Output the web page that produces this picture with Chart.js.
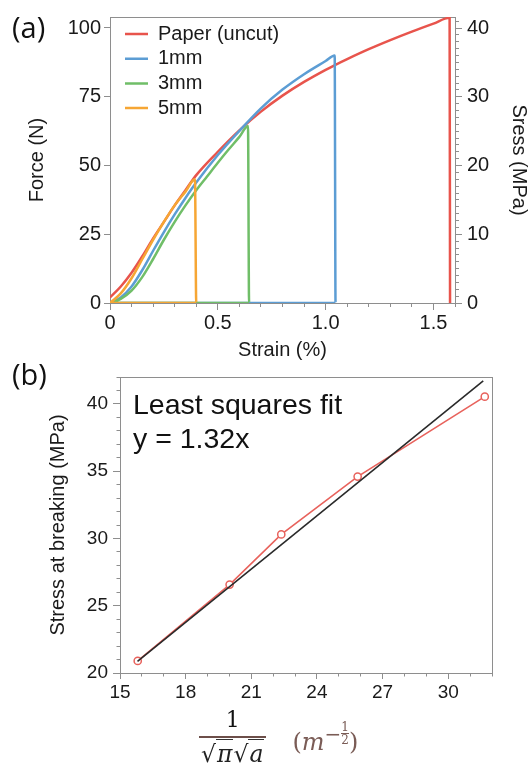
<!DOCTYPE html>
<html>
<head>
<meta charset="utf-8">
<script src="https://cdn.jsdelivr.net/npm/chart.js@4.4.0/dist/chart.umd.min.js"></script>
<style>
  html, body { margin: 0; padding: 0; background: #fff; }
  body { width: 530px; height: 772px; position: relative; overflow: hidden; font-family: "Liberation Sans", Arial, sans-serif; color: #1a1a1a; }
  canvas { position: absolute; left: 0; }
  #chartA { top: 0; }
  #chartB { top: 360px; }
  .panel { position: absolute; left: 12px; font-family: "Open Sans", sans-serif; font-size: 29px; line-height: 29px; color: #111; z-index: 2; }
  #fitNote { position: absolute; left: 133px; top: 387px; font-size: 28.5px; line-height: 34px; color: #111; z-index: 2; }
  #xtitle { position: absolute; left: 199px; top: 707px; display: flex; align-items: center; font-family: "DejaVu Serif", serif; z-index: 2; }
  .frac { display: inline-flex; flex-direction: column; align-items: center; }
  .num { font-size: 22px; line-height: 25px; padding-bottom: 4px; color: #111; }
  .den { border-top: 2px solid #6d4f4a; padding: 1px 2px 0; font-size: 23.5px; line-height: 30px; color: #222; white-space: nowrap; }
  .rad { border-top: 1.5px solid #333; font-style: italic; padding: 0 1px; }
  .unit { margin-left: 26px; color: #7a5c56; font-size: 24px; white-space: nowrap; }
  .unit i { font-style: italic; }
  .sf { display: inline-flex; flex-direction: column; align-items: center; font-size: 12px; line-height: 12px; vertical-align: 10px; }
  .sf span:first-child { border-bottom: 1px solid #7a5c56; }
</style>
</head>
<body>
<canvas id="chartA" width="530" height="365"></canvas>
<canvas id="chartB" width="530" height="412"></canvas>
<div class="panel" style="top:12px">(a)</div>
<div class="panel" style="top:359px">(b)</div>
<div id="fitNote">Least squares fit<br>y = 1.32x</div>
<div id="xtitle">
  <div class="frac">
    <div class="num">1</div>
    <div class="den">√<span class="rad">π</span>√<span class="rad">a</span></div>
  </div>
  <div class="unit">(<i>m</i><sup>−<span class="sf"><span>1</span><span>2</span></span></sup>)</div>
</div>
<script>
// (a) force vs strain for the uncut paper and the three notched strips
const paperStrain = [0, 0.05, 0.1, 0.15, 0.2, 0.25, 0.3, 0.35, 0.4, 0.5, 0.6, 0.7, 0.8, 0.9, 1.0, 1.05, 1.1, 1.2, 1.3, 1.4, 1.5, 1.575, 1.577]
const paperForce = [2, 6, 11, 17, 23.5, 29.5, 35.5, 41, 46.5, 55, 62.8, 69.6, 75.4, 80.4, 84.8, 86.8, 88.7, 92.3, 95.6, 98.7, 101.6, 103.7, 0]

const cut1Strain = [0, 0.05, 0.1, 0.15, 0.2, 0.25, 0.3, 0.35, 0.4, 0.5, 0.6, 0.7, 0.8, 0.9, 1.0, 1.042, 1.046, 0]
const cut1Force = [0, 2, 6, 12, 19, 25.8, 32.2, 38.2, 43.8, 53.8, 62.6, 70.8, 77.6, 83.2, 88, 90, 0, 0]

const cut3Strain = [0, 0.05, 0.1, 0.15, 0.2, 0.25, 0.3, 0.35, 0.4, 0.45, 0.5, 0.55, 0.6, 0.64, 0.645, 0]
const cut3Force = [0, 1.5, 4.5, 9.5, 16, 23, 29.5, 35.5, 41, 46, 51, 55.8, 60.4, 64.4, 0, 0]

const cut5Strain = [0, 0.05, 0.1, 0.15, 0.2, 0.25, 0.3, 0.35, 0.394, 0.4, 0]
const cut5Force = [0, 3.5, 9, 16, 23, 29.5, 35.5, 40.5, 45, 0, 0]

const seriesNames = ["Paper (uncut)", "1mm", "3mm", "5mm"]

const forceTicks = [0, 25, 50, 75, 100]
const stressTicks = [0, 10, 20, 30, 40]
const strainTicks = [0, 0.5, 1.0, 1.5]
const strainTickLabels = ["0", "0.5", "1.0", "1.5"]

// (b) breaking stress against 1/(sqrt(pi) sqrt(a))
const invRootA = [15.81, 20.01, 22.37, 25.86, 31.67]
const breakStress = [20.9, 26.57, 30.3, 34.6, 40.54]
const fitX = [15.8, 31.6]
const fitY = [20.86, 41.71]

const invRootTicks = [15, 18, 21, 24, 27, 30]
const breakTicks = [20, 25, 30, 35, 40]

const axisGrey = "#8e8e8e"

Chart.defaults.font.family = "'Liberation Sans', Arial, sans-serif"
Chart.defaults.color = "#1a1a1a"

const zip = (xs, ys) => xs.map((x, i) => ({ x: x, y: ys[i] }))
const steps = (from, to, step) => {
  const out = []
  for (let v = from; v <= to + 1e-9; v += step) out.push(Math.round(v * 1000) / 1000)
  return out
}
const setTicks = values => axis => { axis.ticks = values.map(v => ({ value: v })) }

const frame = {
  id: "frame",
  beforeDatasetsDraw(chart) {
    const { ctx, chartArea: a } = chart
    ctx.save()
    ctx.strokeStyle = axisGrey
    ctx.lineWidth = 1
    ctx.strokeRect(Math.round(a.left) + 0.5, Math.round(a.top) + 0.5, Math.round(a.right - a.left), Math.round(a.bottom - a.top))
    ctx.restore()
  }
}

// the chartArea legend starts at top 0, move it to where the reference has it
const legendNudge = {
  id: "legendNudge",
  afterLayout(chart) {
    if (!chart.legend || !chart.options.plugins.legend.display) return
    chart.legend.left += 10.3
    chart.legend.top += 19.3
  }
}

function majorAxis(position, min, max, values, opts) {
  return Object.assign({
    type: "linear",
    position: position,
    min: min,
    max: max,
    weight: 1,
    afterBuildTicks: setTicks(values),
    grid: { drawOnChartArea: false, drawTicks: true, tickLength: 7, color: axisGrey },
    border: { display: true, color: axisGrey },
    ticks: { autoSkip: false, maxRotation: 0, font: { size: 20 } }
  }, opts)
}

function minorAxis(position, min, max, values, size) {
  return {
    type: "linear",
    position: position,
    min: min,
    max: max,
    weight: 0,
    afterBuildTicks: setTicks(values),
    afterFit: axis => {
      if (position === "left" || position === "right") axis.width = 0
      else axis.height = 0
    },
    grid: { drawOnChartArea: false, drawTicks: true, tickLength: size, color: axisGrey },
    border: { display: false },
    ticks: { display: false }
  }
}

const colours = ["rgb(232, 84, 76)", "rgb(92, 157, 212)", "rgb(112, 190, 104)", "rgb(246, 166, 52)"]

new Chart(document.getElementById("chartA"), {
  type: "line",
  data: {
    datasets: [
      { label: seriesNames[0], data: zip(paperStrain, paperForce), borderColor: colours[0], backgroundColor: colours[0], order: 3 },
      { label: seriesNames[1], data: zip(cut1Strain, cut1Force), borderColor: colours[1], backgroundColor: colours[1], order: 2 },
      { label: seriesNames[2], data: zip(cut3Strain, cut3Force), borderColor: colours[2], backgroundColor: colours[2], order: 1 },
      { label: seriesNames[3], data: zip(cut5Strain, cut5Force), borderColor: colours[3], backgroundColor: colours[3], order: 0 }
    ]
  },
  options: {
    responsive: false,
    animation: false,
    layout: { padding: { top: 12, left: 0, right: 0, bottom: 0 } },
    elements: {
      line: { borderWidth: 2.5, cubicInterpolationMode: "monotone", fill: false },
      point: { radius: 0, hoverRadius: 0 }
    },
    plugins: {
      tooltip: { enabled: false },
      legend: {
        position: "chartArea",
        align: "start",
        labels: {
          boxWidth: 23,
          boxHeight: 0,
          padding: 4.7,
          color: "#1a1a1a",
          font: { size: 20 },
          sort: (a, b) => a.datasetIndex - b.datasetIndex
        }
      }
    },
    scales: {
      x: majorAxis("bottom", 0, 1.6, strainTicks, {
        afterFit: axis => { axis.height = 62 },
        ticks: { autoSkip: false, maxRotation: 0, padding: 1, font: { size: 20 }, callback: (v, i) => strainTickLabels[i] },
        title: { display: true, text: "Strain (%)", font: { size: 20, lineHeight: 1 }, padding: { top: 0, bottom: 5 } }
      }),
      xMinor: minorAxis("bottom", 0, 1.6, steps(0, 1.6, 0.1), 4),
      y: majorAxis("left", 0, 104, forceTicks, {
        afterFit: axis => { axis.width = 110 },
        grid: { drawOnChartArea: false, drawTicks: true, tickLength: 6, color: axisGrey },
        ticks: { autoSkip: false, includeBounds: false, padding: 3, font: { size: 20 } },
        title: { display: true, text: "Force (N)", font: { size: 20, lineHeight: 1 }, padding: { top: 27.5, bottom: 0 } }
      }),
      stress: majorAxis("right", 0, 41.6, stressTicks, {
        afterFit: axis => { axis.width = 75 },
        ticks: { autoSkip: false, includeBounds: false, padding: 5, font: { size: 20 } },
        title: { display: true, text: "Sress (MPa)", font: { size: 20, lineHeight: 1 }, padding: { top: 1, bottom: 0 } }
      }),
      stressMinor: minorAxis("right", 0, 41.6, steps(0, 41, 1), 4)
    }
  },
  plugins: [frame, legendNudge]
})

new Chart(document.getElementById("chartB"), {
  type: "line",
  data: {
    datasets: [
      {
        label: "Least squares fit",
        data: zip(fitX, fitY),
        borderColor: "#2a2a2a",
        borderWidth: 1.6,
        pointRadius: 0,
        order: 0
      },
      {
        label: "Stress at breaking",
        data: zip(invRootA, breakStress),
        borderColor: "rgb(232, 98, 92)",
        borderWidth: 1.6,
        pointRadius: 3.6,
        pointBorderWidth: 1.5,
        pointBorderColor: "rgb(232, 98, 92)",
        pointBackgroundColor: "#fff",
        order: 1
      }
    ]
  },
  options: {
    responsive: false,
    animation: false,
    layout: { padding: { top: 17, left: 0, right: 38, bottom: 0 } },
    elements: { line: { tension: 0, fill: false } },
    plugins: { legend: { display: false }, tooltip: { enabled: false } },
    scales: {
      x: majorAxis("bottom", 15, 32, invRootTicks, {
        afterFit: axis => { axis.height = 99 },
        grid: { drawOnChartArea: false, drawTicks: true, tickLength: 6, color: axisGrey },
        ticks: { autoSkip: false, maxRotation: 0, padding: 2, font: { size: 19 } }
      }),
      xMinor: minorAxis("bottom", 15, 32, steps(15, 32, 1), 3.5),
      y: majorAxis("left", 20, 42, breakTicks, {
        afterFit: axis => { axis.width = 120 },
        grid: { drawOnChartArea: false, drawTicks: true, tickLength: 7, color: axisGrey },
        ticks: { autoSkip: false, includeBounds: false, padding: 5, font: { size: 19 } },
        title: { display: true, text: "Stress at breaking (MPa)", font: { size: 20, lineHeight: 1 }, padding: { top: 48, bottom: 0 } }
      }),
      yMinor: minorAxis("left", 20, 42, steps(20, 42, 1), 3.5)
    }
  },
  plugins: [frame]
})
</script>
</body>
</html>
